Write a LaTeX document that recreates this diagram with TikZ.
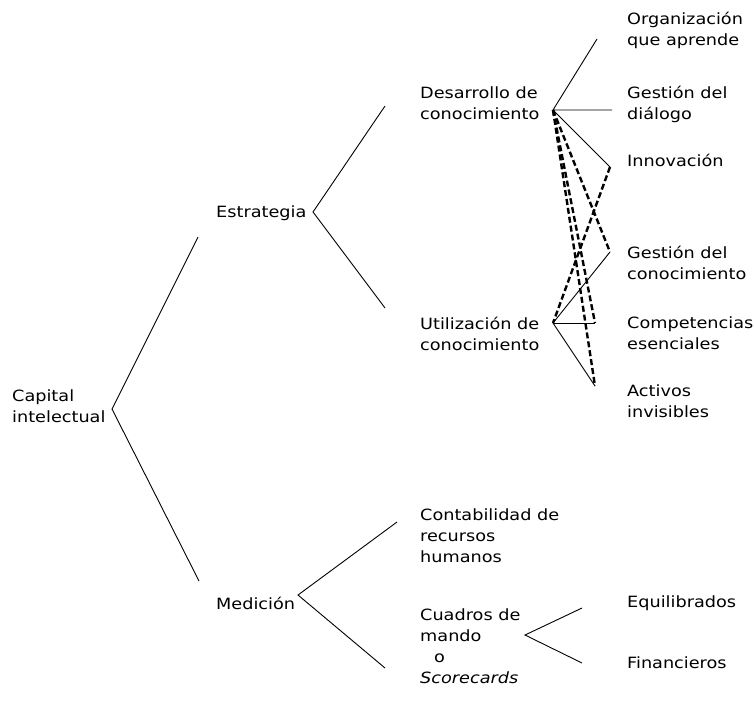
\documentclass[tikz,border=0pt]{standalone}
\usepackage{fontspec}
\setmainfont{DejaVu Sans}[FakeStretch=1.14]
\begin{document}
\begin{tikzpicture}[x=1pt,y=-1pt,
  lbl/.style={anchor=north west,inner sep=0pt,align=left,font=\fontsize{15.5}{21}\selectfont},
  thinline/.style={line width=0.9pt},
  dashline/.style={line width=2.4pt,dash pattern=on 6pt off 3pt}]
\useasboundingbox (0,0) rectangle (754,702);
% text nodes
\node[lbl] (capital) at (12,390) {Capital\\intelectual};
\node[lbl] (estr) at (216,206) {Estrategia};
\node[lbl] (medi) at (216,597) {Medición};
\node[lbl] (desa) at (420,87) {Desarrollo de\\conocimiento};
\node[lbl] (util) at (420,317) {Utilización de\\conocimiento};
\node[lbl] (cont) at (420,509) {Contabilidad de\\recursos\\humanos};
\node[lbl] (cuad) at (420,609) {Cuadros de\\mando\\\hspace*{14pt}o\\\textit{Scorecards}};
\node[lbl] (orga) at (627,12) {Organización\\que aprende};
\node[lbl] (gdia) at (627,86) {Gestión del\\diálogo};
\node[lbl] (inno) at (627,154) {Innovación};
\node[lbl] (gcon) at (627,246) {Gestión del\\conocimiento};
\node[lbl] (comp) at (627,317) {Competencias\\esenciales};
\node[lbl] (acti) at (627,385) {Activos\\invisibles};
\node[lbl] (equi) at (627,596) {Equilibrados};
\node[lbl] (fina) at (627,657) {Financieros};
% coordinates
\coordinate (cap) at (112,409);
\coordinate (capU) at (198,237);
\coordinate (capL) at (199,581);
\coordinate (est) at (313,212);
\coordinate (estU) at (385,106);
\coordinate (estL) at (385,308);
\coordinate (med) at (298,595);
\coordinate (medU) at (397,522);
\coordinate (medL) at (385,668);
\coordinate (cua) at (525,635);
\coordinate (cuaU) at (582,608);
\coordinate (cuaL) at (582,663);
\coordinate (D) at (553,110);
\coordinate (U) at (553,323);
\coordinate (pOrg) at (597,39);
\coordinate (pDia) at (612,110);
\coordinate (pInn) at (610,167);
\coordinate (pGc) at (610,252);
\coordinate (pComp) at (595,323);
\coordinate (pAct) at (595,386);
% tree
\draw[thinline] (capU) -- (cap) -- (capL);
\draw[thinline] (estU) -- (est) -- (estL);
\draw[thinline] (medU) -- (med) -- (medL);
\draw[thinline] (cuaU) -- (cua) -- (cuaL);
\draw[thinline] (pOrg) -- (D) -- (pDia);
\draw[thinline] (D) -- (pInn);
\draw[dashline] (D) -- (pGc);
\draw[dashline] (D) -- (pComp);
\draw[dashline] (D) -- (pAct);
\draw[dashline] (pInn) -- (U);
\draw[thinline] (pGc) -- (U);
\draw[thinline] (U) -- (pComp);
\draw[thinline] (U) -- (pAct);
\end{tikzpicture}
\end{document}
